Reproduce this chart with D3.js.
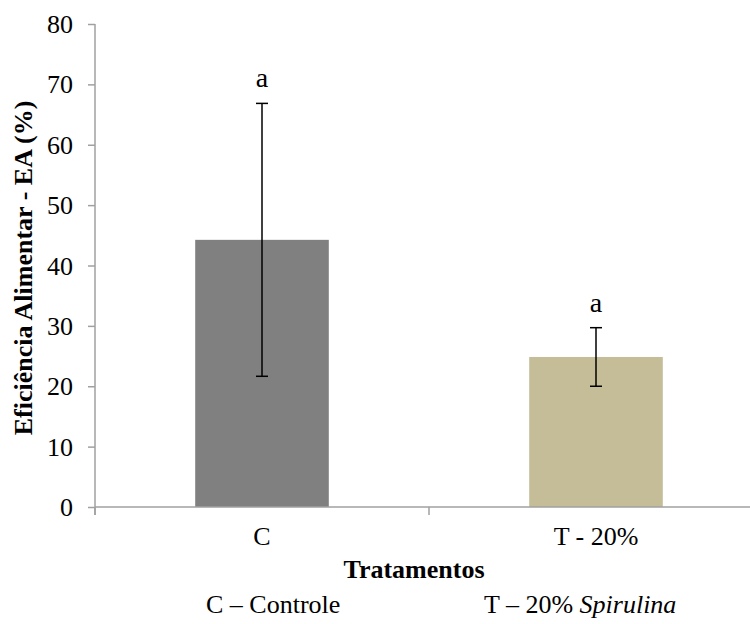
<!DOCTYPE html>
<html><head><meta charset="utf-8">
<script src="https://cdn.jsdelivr.net/npm/d3@7"></script>
<style>body{margin:0;background:#fff}svg{display:block}text{font-family:"Liberation Serif","Times New Roman",serif;fill:#000}</style>
</head><body>
<script>
const categories = ["C", "T - 20%"];
const means = [44.25, 24.85];
const errors = [22.6, 4.85];
const letters = ["a", "a"];
const yTicks = [0, 10, 20, 30, 40, 50, 60, 70, 80];
const colors = ["#808080", "#c4bd97"];

const W = 750, H = 624;
const m = {left: 95, top: 24, right: -13, bottom: 117};
const svg = d3.select("body").append("svg").attr("width", W).attr("height", H);
const x = d3.scaleBand().domain(categories).range([m.left, W - m.right]).paddingInner(0.6).paddingOuter(0.3);
const y = d3.scaleLinear().domain([0, 80]).range([H - m.bottom, m.top]);
const FS = "26px";

// bars
svg.selectAll("rect.bar").data(categories).join("rect")
  .attr("x", d => x(d)).attr("width", x.bandwidth())
  .attr("y", (d, i) => y(means[i])).attr("height", (d, i) => y(0) - y(means[i]))
  .attr("fill", (d, i) => colors[i]);

// axes
const axisColor = "#a0a0a0";
const yAxis = svg.append("g").attr("transform", `translate(${m.left},0)`)
  .call(d3.axisLeft(y).tickValues(yTicks).tickSize(7).tickSizeOuter(0).tickPadding(15));
yAxis.select(".domain").attr("stroke", axisColor).attr("stroke-width", 1.5)
  .attr("d", `M0,${y(80)}V${y(0) + 8}`);
yAxis.selectAll(".tick line").attr("stroke", axisColor).attr("stroke-width", 1.5);
yAxis.selectAll(".tick text").style("font-size", FS).attr("dy", "0.33em");

// x axis line with boundary ticks
const bounds = [m.left, m.left + (W - m.right - m.left) / 2, W - m.right];
const xg = svg.append("g");
xg.append("line").attr("x1", m.left).attr("x2", W - m.right).attr("y1", y(0)).attr("y2", y(0))
  .attr("stroke", axisColor).attr("stroke-width", 1.5);
xg.selectAll("line.t").data(bounds).join("line").attr("class", "t")
  .attr("x1", d => d).attr("x2", d => d).attr("y1", y(0)).attr("y2", y(0) + 8)
  .attr("stroke", axisColor).attr("stroke-width", 1.5);
svg.selectAll("text.xl").data(categories).join("text").attr("class", "xl")
  .attr("x", d => x(d) + x.bandwidth() / 2).attr("y", y(0) + 38)
  .attr("text-anchor", "middle").style("font-size", FS).text(d => d);

// error bars
const eb = svg.append("g").attr("stroke", "#000").attr("stroke-width", 1.5);
categories.forEach((c, i) => {
  const cx = x(c) + x.bandwidth() / 2;
  const hi = y(means[i] + errors[i]), lo = y(means[i] - errors[i]);
  eb.append("line").attr("x1", cx).attr("x2", cx).attr("y1", hi).attr("y2", lo);
  eb.append("line").attr("x1", cx - 6).attr("x2", cx + 6).attr("y1", hi).attr("y2", hi);
  eb.append("line").attr("x1", cx - 6).attr("x2", cx + 6).attr("y1", lo).attr("y2", lo);
  svg.append("text").attr("x", cx).attr("y", hi - 16).attr("text-anchor", "middle")
    .style("font-size", "28px").text(letters[i]);
});

// titles
svg.append("text").attr("x", 414).attr("y", 578).attr("text-anchor", "middle")
  .style("font-size", FS).style("font-weight", "bold").text("Tratamentos");
svg.append("text").attr("transform", `translate(32,268) rotate(-90)`)
  .attr("text-anchor", "middle").style("font-size", FS).style("font-weight", "bold")
  .text("Eficiência Alimentar - EA (%)");

// legend line
svg.append("text").attr("x", 206).attr("y", 613).style("font-size", FS).text("C – Controle");
const t2 = svg.append("text").attr("x", 484).attr("y", 613).style("font-size", FS);
t2.append("tspan").text("T – 20% ");
t2.append("tspan").style("font-style", "italic").text("Spirulina");
</script>
</body></html>
